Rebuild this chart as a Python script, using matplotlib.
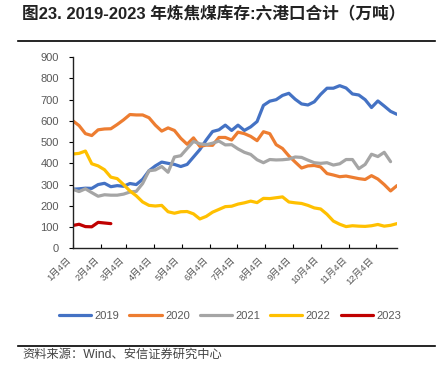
import datetime as dt
import numpy as np
import matplotlib.pyplot as plt
from matplotlib.lines import Line2D

# 数据（周度，单位：万吨）
years = ['2019', '2020', '2021', '2022', '2023']
y2019 = [278, 280, 283, 282, 300, 306, 290, 295, 292, 305,
         300, 325, 365, 388, 406, 400, 395, 385, 395, 430,
         465, 510, 550, 558, 580, 555, 580, 555, 572, 597,
         673, 693, 700, 720, 730, 702, 680, 675, 690, 725,
         754, 754, 766, 755, 727, 722, 700, 663, 694, 670,
         645, 631]
y2020 = [601, 578, 540, 531, 558, 562, 563, 583, 605, 630,
         628, 628, 615, 580, 552, 567, 555, 518, 490, 520,
         480, 486, 485, 522, 522, 510, 547, 540, 527, 507,
         549, 540, 488, 470, 435, 406, 378, 388, 390, 383,
         352, 345, 337, 340, 334, 328, 324, 342, 326, 300,
         270, 295]
y2021 = [278, 267, 280, 262, 245, 252, 250, 250, 255, 265,
         268, 305, 365, 369, 385, 358, 430, 436, 470, 503,
         492, 488, 495, 505, 487, 488, 468, 452, 442, 417,
         403, 418, 416, 417, 420, 430, 428, 415, 403, 400,
         403, 392, 398, 418, 418, 375, 395, 443, 432, 452,
         408]
y2022 = [444, 447, 458, 398, 388, 370, 335, 328, 300, 270,
         247, 218, 202, 199, 202, 172, 165, 172, 173, 162,
         138, 150, 170, 183, 196, 198, 208, 214, 222, 215,
         235, 234, 238, 242, 218, 214, 211, 202, 190, 185,
         160, 128, 113, 102, 106, 104, 103, 106, 112, 104,
         108, 116]
y2023 = [107, 113, 102, 101, 122, 119, 116]

month_labels = [f'{m}月4日' for m in range(1, 13)]
colors = ['#4472C4', '#ED7D31', '#A5A5A5', '#FFC000', '#C00000']

plt.rcParams['font.family'] = ['Liberation Sans', 'Noto Sans CJK SC']

fig = plt.figure(figsize=(4.46, 3.79), dpi=100)
ax = fig.add_axes([0.163, 0.345, 0.727, 0.504])

for name, y, c in zip(years, [y2019, y2020, y2021, y2022, y2023], colors):
    ax.plot(np.arange(len(y)), y, color=c, lw=2.3, label=name,
            solid_capstyle='round', solid_joinstyle='round')

# 横轴：按日期换算成周
start = dt.date(2019, 1, 4)
tick_pos = [(dt.date(2019, m, 4) - start).days / 7 for m in range(1, 13)]
ax.set_xlim(0, 51)
ax.set_xticks(tick_pos)
ax.set_xticklabels(month_labels, rotation=45, ha='right', va='top')
ax.set_ylim(0, 900)
ax.set_yticks(range(0, 901, 100))

for s in ['top', 'right']:
    ax.spines[s].set_visible(False)
for s in ['left', 'bottom']:
    ax.spines[s].set_color('#222222')
    ax.spines[s].set_linewidth(1.0)
ax.tick_params(axis='y', direction='out', length=3, width=0.8,
               labelsize=8, labelcolor='#595959', pad=7)
ax.tick_params(axis='x', direction='in', length=3, width=0.8,
               labelsize=6.8, labelcolor='#595959', pad=5)

ax.legend(loc='center', bbox_to_anchor=(0.516, 0.166),
          bbox_transform=fig.transFigure, ncol=5, frameon=False,
          fontsize=8, handlelength=2.9, columnspacing=0.9,
          handletextpad=0.3, labelcolor='#595959')

# 标题和来源
fig.text(22 / 446, 1 - 14 / 379, '图23. 2019-2023 年炼焦煤库存:六港口合计（万吨）',
         fontsize=12, fontweight='bold', color='#222222', va='center')
fig.add_artist(Line2D([18 / 446, 435 / 446], [1 - 41 / 379] * 2,
                      color='black', lw=1.2))
fig.add_artist(Line2D([18 / 446, 435 / 446], [1 - 345.7 / 379] * 2,
                      color='black', lw=1.2))
fig.text(22 / 446, 1 - 355 / 379, '资料来源：Wind、安信证券研究中心',
         fontsize=8.8, color='#444444', va='center')

fig.savefig('out.png', dpi=100)
